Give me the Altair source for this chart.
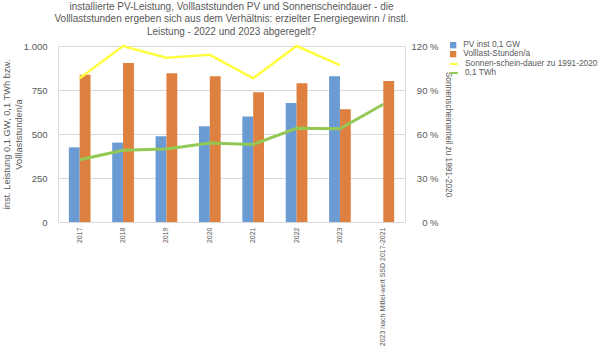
import altair as alt
import pandas as pd

categories = ["2017", "2018", "2019", "2020", "2021", "2022", "2023",
              "2023 nach Mittel-wert SSD 2017-2021"]
pv_inst = [424, 451, 487, 544, 600, 676, 828, None]
volllast = [837, 903, 845, 828, 737, 788, 640, 801]
twh = [354, 407, 415, 449, 441, 532, 530, 669]
sonne = [98, 120, 112, 114, 98, 120, 107, None]

bar_series = ["PV inst 0,1 GW", "Volllast-Stunden/a"]
line_series = ["Sonnen-schein-dauer zu 1991-2020", "0,1 TWh"]

rows = []
for c, p, v in zip(categories, pv_inst, volllast):
    if p is not None:
        rows.append({"cat": c, "series": bar_series[0], "value": p})
    if v is not None:
        rows.append({"cat": c, "series": bar_series[1], "value": v})
bars_df = pd.DataFrame(rows)
twh_df = pd.DataFrame({"cat": categories, "value": twh, "series": line_series[1]})
sonne_df = pd.DataFrame({"cat": categories, "value": sonne, "series": line_series[0]}).dropna()

grey = "#595959"
font = "Liberation Sans"

x_enc = alt.X("cat:N", sort=categories, title=None,
              scale=alt.Scale(paddingInner=0.5, paddingOuter=0.25),
              axis=alt.Axis(labelAngle=-90, labelFontSize=7, labelColor=grey,
                            ticks=False, domainColor="#D9D9D9", labelPadding=5,
                            labelLimit=200))

bars = alt.Chart(bars_df).mark_bar().encode(
    x=x_enc,
    xOffset=alt.XOffset("series:N", sort=bar_series),
    y=alt.Y("value:Q", scale=alt.Scale(domain=[0, 1000]),
            title=["inst. Leistung 0,1 GW, 0,1 TWh  bzw.", "Volllaststunden/a"],
            axis=alt.Axis(orient="left", values=[0, 250, 500, 750, 1000],
                          labelExpr="replace(format(datum.value, ','), ',', '.')",
                          ticks=False, domain=False, gridColor="#D9D9D9",
                          labelColor=grey, labelFontSize=9.5, labelPadding=11,
                          titleColor=grey, titleFontSize=9.3, titleFontWeight="normal",
                          titleLineHeight=12, titlePadding=0)),
    color=alt.Color("series:N", sort=bar_series,
                    scale=alt.Scale(domain=bar_series, range=["#6A9BD3", "#DE8140"]),
                    legend=alt.Legend(title=None, orient="none", legendX=391, legendY=-5,
                                      symbolType="square", symbolSize=40, padding=0,
                                      labelFontSize=8.3, labelColor=grey, rowPadding=0,
                                      labelOffset=6)),
)

green = alt.Chart(twh_df).mark_line(strokeWidth=3).encode(
    x=alt.X("cat:N", sort=categories),
    y=alt.Y("value:Q", scale=alt.Scale(domain=[0, 1000]), axis=None),
    stroke=alt.Stroke("series:N",
                      scale=alt.Scale(domain=line_series, range=["#FFFF40", "#94C855"]),
                      legend=alt.Legend(title=None, orient="none", legendX=391, legendY=13,
                                        symbolType="stroke", symbolSize=60, padding=0,
                                        symbolStrokeWidth=2, labelFontSize=8.3,
                                        labelColor=grey, labelLimit=150, rowPadding=0,
                                        labelOffset=6)),
)

yellow = alt.Chart(sonne_df).mark_line(strokeWidth=2.5).encode(
    x=alt.X("cat:N", sort=categories),
    y=alt.Y("value:Q", scale=alt.Scale(domain=[0, 120]),
            title="Sonnenscheinanteil zu 1991-2020",
            axis=alt.Axis(orient="right", values=[0, 30, 60, 90, 120],
                          labelExpr="datum.value + ' %'", grid=False, ticks=False,
                          domain=False, labelAlign="right", labelPadding=33,
                          labelColor=grey, labelFontSize=9.5, titleColor=grey,
                          titleFontSize=8.3, titleFontWeight="normal", titlePadding=5)),
    stroke=alt.Stroke("series:N"),
)

chart = alt.layer(bars, green, yellow).resolve_scale(y="independent").properties(
    width=347, height=176,
    title=alt.TitleParams(
        ["installierte PV-Leistung, Volllaststunden PV und Sonnenscheindauer  - die",
         "Volllaststunden ergeben sich aus dem Verhältnis: erzielter Energiegewinn  / instl.",
         "Leistung  -  2022 und 2023 abgeregelt?"],
        fontSize=10, fontWeight="normal", color=grey, lineHeight=12.7, offset=4,
        anchor="middle", font=font),
    padding={"left": 2, "top": 1, "right": 0, "bottom": 0},
).configure_view(stroke=None).configure(font=font)

chart.save("out.html", embed_options={"renderer": "svg", "actions": False})
